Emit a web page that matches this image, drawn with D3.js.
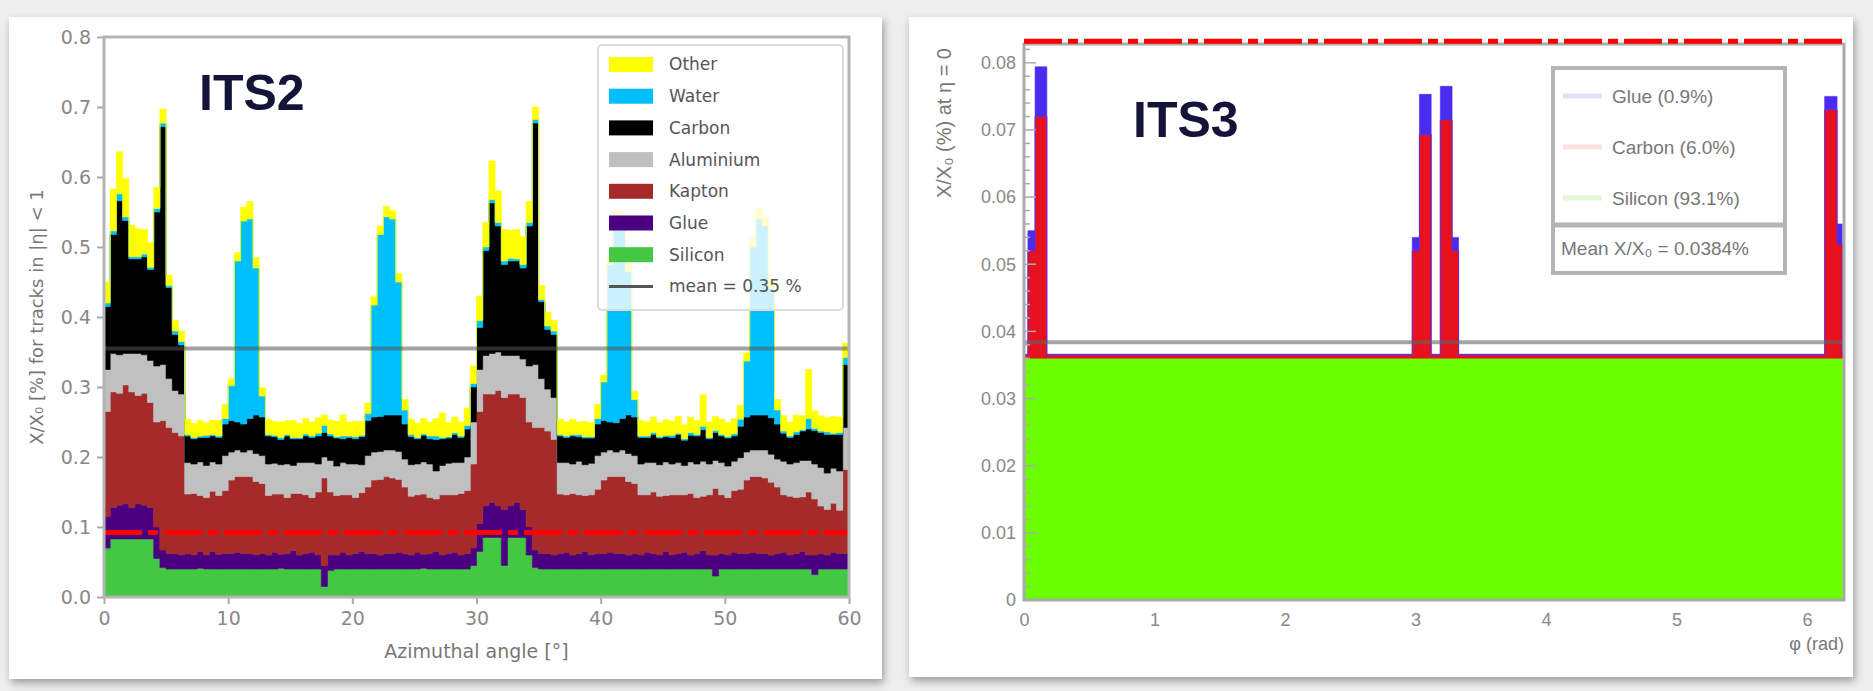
<!DOCTYPE html>
<html>
<head>
<meta charset="utf-8">
<script src="https://cdn.jsdelivr.net/npm/d3@7"></script>
<style>
  body { margin: 0; background: #ececec; }
  svg { display: block; }
</style>
</head>
<body>
<svg id="chart" width="1873" height="691"></svg>
<script>
// ---------------- ITS2 data (0.5 deg bins, X/X0 in %) ----------------
var its2BinWidth = 0.5;
var its2Keys = ["Silicon", "Glue", "Kapton", "Aluminium", "Carbon", "Water", "Other"];
var its2LegendOrder = ["Other", "Water", "Carbon", "Aluminium", "Kapton", "Glue", "Silicon"];

var silicon = [
  0.070, 0.083, 0.083, 0.083, 0.083, 0.083, 0.083, 0.083, 0.055, 0.042,
  0.040, 0.040, 0.040, 0.040, 0.040, 0.041, 0.040, 0.040, 0.040, 0.040,
  0.040, 0.040, 0.040, 0.040, 0.040, 0.040, 0.040, 0.040, 0.041, 0.040,
  0.040, 0.040, 0.040, 0.040, 0.040, 0.015, 0.038, 0.040, 0.040, 0.040,
  0.040, 0.040, 0.040, 0.040, 0.040, 0.040, 0.040, 0.040, 0.040, 0.040,
  0.040, 0.041, 0.040, 0.040, 0.040, 0.040, 0.040, 0.040, 0.040, 0.045,
  0.065, 0.085, 0.085, 0.085, 0.045, 0.085, 0.085, 0.085, 0.060, 0.042,
  0.040, 0.040, 0.040, 0.040, 0.040, 0.040, 0.040, 0.040, 0.040, 0.040,
  0.040, 0.040, 0.040, 0.040, 0.040, 0.040, 0.040, 0.040, 0.040, 0.040,
  0.040, 0.040, 0.040, 0.040, 0.040, 0.040, 0.040, 0.040, 0.030, 0.040,
  0.040, 0.040, 0.040, 0.040, 0.040, 0.040, 0.040, 0.040, 0.040, 0.040,
  0.040, 0.040, 0.040, 0.040, 0.032, 0.040, 0.040, 0.040, 0.040, 0.040
];
var glue = [
  0.045, 0.045, 0.048, 0.050, 0.045, 0.050, 0.048, 0.045, 0.045, 0.025,
  0.022, 0.022, 0.020, 0.022, 0.020, 0.024, 0.020, 0.025, 0.021, 0.022,
  0.022, 0.024, 0.022, 0.022, 0.020, 0.022, 0.020, 0.024, 0.020, 0.022,
  0.026, 0.020, 0.022, 0.024, 0.020, 0.030, 0.022, 0.020, 0.024, 0.020,
  0.022, 0.025, 0.022, 0.022, 0.020, 0.022, 0.022, 0.024, 0.022, 0.020,
  0.024, 0.020, 0.022, 0.025, 0.020, 0.022, 0.024, 0.020, 0.022, 0.025,
  0.040, 0.045, 0.050, 0.045, 0.080, 0.045, 0.050, 0.040, 0.040, 0.025,
  0.022, 0.022, 0.020, 0.022, 0.024, 0.020, 0.022, 0.025, 0.020, 0.022,
  0.022, 0.024, 0.022, 0.022, 0.020, 0.022, 0.020, 0.024, 0.022, 0.020,
  0.025, 0.020, 0.022, 0.024, 0.020, 0.022, 0.026, 0.020, 0.030, 0.022,
  0.020, 0.024, 0.022, 0.022, 0.024, 0.022, 0.022, 0.020, 0.022, 0.024,
  0.020, 0.022, 0.025, 0.020, 0.028, 0.022, 0.020, 0.024, 0.022, 0.022
];
var kapton = [
  0.150, 0.165, 0.160, 0.170, 0.165, 0.155, 0.160, 0.150, 0.150, 0.185,
  0.180, 0.173, 0.170, 0.085, 0.088, 0.080, 0.082, 0.086, 0.084, 0.090,
  0.105, 0.108, 0.110, 0.110, 0.105, 0.100, 0.085, 0.083, 0.086, 0.080,
  0.082, 0.088, 0.084, 0.078, 0.090, 0.125, 0.090, 0.085, 0.082, 0.086,
  0.080, 0.084, 0.095, 0.105, 0.108, 0.110, 0.108, 0.104, 0.095, 0.084,
  0.082, 0.086, 0.080, 0.075, 0.086, 0.084, 0.082, 0.088, 0.090, 0.120,
  0.160, 0.160, 0.155, 0.165, 0.160, 0.160, 0.155, 0.160, 0.150, 0.175,
  0.180, 0.175, 0.165, 0.085, 0.082, 0.088, 0.084, 0.080, 0.086, 0.092,
  0.105, 0.108, 0.110, 0.110, 0.105, 0.100, 0.086, 0.082, 0.088, 0.084,
  0.080, 0.086, 0.084, 0.082, 0.088, 0.080, 0.078, 0.086, 0.095, 0.084,
  0.082, 0.088, 0.092, 0.105, 0.108, 0.110, 0.108, 0.104, 0.095, 0.082,
  0.084, 0.080, 0.078, 0.090, 0.080, 0.068, 0.065, 0.070, 0.062, 0.120
];
var aluminium = [
  0.060, 0.055, 0.055, 0.045, 0.055, 0.060, 0.055, 0.060, 0.080, 0.080,
  0.070, 0.060, 0.060, 0.045, 0.042, 0.048, 0.046, 0.042, 0.045, 0.050,
  0.040, 0.038, 0.035, 0.038, 0.040, 0.040, 0.045, 0.044, 0.042, 0.048,
  0.040, 0.044, 0.046, 0.050, 0.040, 0.030, 0.045, 0.042, 0.046, 0.044,
  0.048, 0.040, 0.045, 0.040, 0.040, 0.038, 0.040, 0.040, 0.040, 0.045,
  0.044, 0.046, 0.048, 0.040, 0.042, 0.045, 0.046, 0.044, 0.048, 0.060,
  0.060, 0.055, 0.058, 0.055, 0.060, 0.055, 0.055, 0.055, 0.080, 0.090,
  0.070, 0.060, 0.060, 0.045, 0.046, 0.042, 0.048, 0.044, 0.045, 0.048,
  0.040, 0.038, 0.035, 0.038, 0.040, 0.040, 0.044, 0.046, 0.042, 0.045,
  0.048, 0.044, 0.046, 0.042, 0.045, 0.048, 0.050, 0.044, 0.040, 0.046,
  0.045, 0.042, 0.045, 0.040, 0.038, 0.038, 0.040, 0.040, 0.040, 0.048,
  0.046, 0.050, 0.052, 0.045, 0.050, 0.055, 0.052, 0.050, 0.056, 0.060
];
var carbon = [
  0.090, 0.170, 0.220, 0.190, 0.135, 0.135, 0.140, 0.130, 0.220, 0.340,
  0.130, 0.080, 0.070, 0.038, 0.036, 0.035, 0.040, 0.037, 0.038, 0.045,
  0.045, 0.040, 0.040, 0.045, 0.055, 0.055, 0.040, 0.038, 0.036, 0.040,
  0.038, 0.034, 0.038, 0.036, 0.040, 0.035, 0.035, 0.040, 0.034, 0.038,
  0.036, 0.040, 0.050, 0.050, 0.050, 0.050, 0.050, 0.052, 0.050, 0.040,
  0.036, 0.038, 0.036, 0.045, 0.038, 0.036, 0.040, 0.036, 0.040, 0.050,
  0.060, 0.150, 0.215, 0.180, 0.130, 0.135, 0.135, 0.130, 0.200, 0.345,
  0.110, 0.085, 0.090, 0.038, 0.036, 0.040, 0.035, 0.038, 0.036, 0.045,
  0.045, 0.040, 0.042, 0.045, 0.055, 0.055, 0.038, 0.036, 0.040, 0.038,
  0.036, 0.038, 0.040, 0.036, 0.038, 0.040, 0.045, 0.036, 0.040, 0.038,
  0.040, 0.036, 0.045, 0.050, 0.050, 0.050, 0.050, 0.052, 0.050, 0.040,
  0.038, 0.040, 0.042, 0.045, 0.048, 0.050, 0.055, 0.048, 0.052, 0.090
];
var water = [
  0.005, 0.005, 0.010, 0.005, 0.003, 0.003, 0.004, 0.003, 0.005, 0.005,
  0.003, 0.005, 0.005, 0.002, 0.002, 0.002, 0.003, 0.002, 0.002, 0.008,
  0.050, 0.230, 0.290, 0.285, 0.210, 0.030, 0.002, 0.002, 0.003, 0.002,
  0.002, 0.002, 0.003, 0.002, 0.004, 0.010, 0.003, 0.002, 0.004, 0.002,
  0.003, 0.002, 0.010, 0.160, 0.260, 0.283, 0.280, 0.190, 0.020, 0.003,
  0.002, 0.002, 0.004, 0.005, 0.002, 0.002, 0.003, 0.002, 0.005, 0.005,
  0.010, 0.005, 0.005, 0.005, 0.005, 0.004, 0.003, 0.005, 0.005, 0.005,
  0.003, 0.005, 0.005, 0.002, 0.002, 0.002, 0.003, 0.002, 0.002, 0.008,
  0.055, 0.225, 0.283, 0.280, 0.205, 0.025, 0.002, 0.002, 0.003, 0.002,
  0.002, 0.003, 0.002, 0.002, 0.004, 0.002, 0.005, 0.002, 0.003, 0.002,
  0.002, 0.003, 0.010, 0.080, 0.240, 0.280, 0.270, 0.185, 0.020, 0.003,
  0.002, 0.004, 0.002, 0.015, 0.003, 0.002, 0.004, 0.002, 0.003, 0.010
];
var other = [
  0.030, 0.060, 0.060, 0.055, 0.045, 0.040, 0.035, 0.035, 0.030, 0.020,
  0.015, 0.015, 0.015, 0.022, 0.020, 0.022, 0.018, 0.020, 0.022, 0.020,
  0.010, 0.012, 0.020, 0.025, 0.015, 0.012, 0.022, 0.020, 0.022, 0.020,
  0.024, 0.020, 0.022, 0.020, 0.022, 0.015, 0.020, 0.022, 0.030, 0.020,
  0.022, 0.020, 0.015, 0.012, 0.012, 0.015, 0.012, 0.012, 0.015, 0.022,
  0.020, 0.022, 0.020, 0.025, 0.035, 0.020, 0.022, 0.020, 0.025, 0.025,
  0.035, 0.035, 0.055, 0.045, 0.045, 0.040, 0.042, 0.040, 0.030, 0.018,
  0.020, 0.020, 0.015, 0.022, 0.020, 0.022, 0.018, 0.022, 0.020, 0.020,
  0.010, 0.012, 0.018, 0.015, 0.012, 0.012, 0.022, 0.020, 0.022, 0.020,
  0.022, 0.020, 0.024, 0.020, 0.022, 0.020, 0.045, 0.022, 0.020, 0.022,
  0.020, 0.022, 0.020, 0.012, 0.012, 0.015, 0.012, 0.012, 0.015, 0.022,
  0.020, 0.024, 0.020, 0.070, 0.025, 0.022, 0.020, 0.024, 0.022, 0.020
];
var its2Mean = 0.355;
var its2RedLine = 0.092;
var its2XTicks = [0, 10, 20, 30, 40, 50, 60];
var its2YTicks = [0, 0.1, 0.2, 0.3, 0.4, 0.5, 0.6, 0.7, 0.8];

// ---------------- ITS3 data (variable phi bins, X/X0 in %) ----------------
var its3Edges   = [0, 0.03, 0.085, 0.175, 2.975, 3.03, 3.12, 3.19, 3.28, 3.33, 6.135, 6.23, 6.27, 6.2832];
var its3Silicon = [0.036, 0.036, 0.036, 0.036, 0.036, 0.036, 0.036, 0.036, 0.036, 0.036, 0.036, 0.036, 0.036];
var its3Carbon  = [0.0005, 0.016, 0.036, 0.0005, 0.016, 0.0333, 0.0005, 0.0355, 0.016, 0.0005, 0.037, 0.017, 0.0005];
var its3Glue    = [0.0001, 0.003, 0.0074, 0.0001, 0.002, 0.006, 0.0001, 0.005, 0.002, 0.0001, 0.002, 0.003, 0.0001];
var its3Keys = ["Silicon", "Carbon", "Glue"];
var its3Labels = ["Glue (0.9%)", "Carbon (6.0%)", "Silicon (93.1%)"];
var its3Mean = 0.0384;
var its3RedLine = 0.0832;
var its3XTicks = [0, 1, 2, 3, 4, 5, 6];
var its3YTicks = [0, 0.01, 0.02, 0.03, 0.04, 0.05, 0.06, 0.07, 0.08];

var its2Colors = {
  Other: "#ffff00", Water: "#00bfff", Carbon: "#000000", Aluminium: "#c0c0c0",
  Kapton: "#a52a2a", Glue: "#4b0082", Silicon: "#42c842"
};
var its3Colors = { Silicon: "#6cff00", Carbon: "#e8111e", Glue: "#4a2cf0" };
var its3LegendColors = { Glue: "#e2e0f8", Carbon: "#f8e2e2", Silicon: "#e0f8d6" };

var svg = d3.select("#chart");

// card shadow
var defs = svg.append("defs");
var shadow = defs.append("filter").attr("id", "shadow")
  .attr("x", "-5%").attr("y", "-5%").attr("width", "110%").attr("height", "115%");
shadow.append("feDropShadow").attr("dx", 2).attr("dy", 4).attr("stdDeviation", 4)
  .attr("flood-color", "#000").attr("flood-opacity", 0.35);

svg.append("rect").attr("x", 0).attr("y", 0).attr("width", 1873).attr("height", 691).attr("fill", "#eeeeee");
svg.append("rect").attr("x", 9).attr("y", 17).attr("width", 873).attr("height", 662)
  .attr("fill", "#fff").attr("filter", "url(#shadow)");
svg.append("rect").attr("x", 909).attr("y", 17).attr("width", 944).attr("height", 660)
  .attr("fill", "#fff").attr("filter", "url(#shadow)");

//////////////////////////////////////////////////////////////////////////////
// LEFT: ITS2
var xL = d3.scaleLinear().domain([0, 60]).range([104, 849]);
var yL = d3.scaleLinear().domain([0, 0.8]).range([597, 37]);

var its2Rows = silicon.map(function(v, i) {
  return {
    angle: i * its2BinWidth,
    Silicon: silicon[i], Glue: glue[i], Kapton: kapton[i], Aluminium: aluminium[i],
    Carbon: carbon[i], Water: water[i], Other: other[i]
  };
});
// closing edge for step curve
its2Rows.push(Object.assign({}, its2Rows[its2Rows.length - 1], { angle: its2Rows.length * its2BinWidth }));

var its2Series = d3.stack().keys(its2Keys)(its2Rows);
var areaL = d3.area()
  .curve(d3.curveStepAfter)
  .x(d => xL(d.data.angle))
  .y0(d => yL(d[0]))
  .y1(d => yL(d[1]));

var left = svg.append("g");
left.selectAll("path.layer").data(its2Series).enter()
  .append("path")
  .attr("class", "layer")
  .attr("d", areaL)
  .attr("fill", d => its2Colors[d.key])
  .attr("stroke", d => its2Colors[d.key])
  .attr("stroke-width", 0.6);

// red dash-dot reference line
left.append("line")
  .attr("x1", xL(0)).attr("x2", xL(60))
  .attr("y1", yL(its2RedLine)).attr("y2", yL(its2RedLine))
  .attr("stroke", "#ff0000").attr("stroke-width", 5)
  .attr("stroke-dasharray", "38,6,10,6");

// mean line
left.append("line")
  .attr("x1", xL(0)).attr("x2", xL(60))
  .attr("y1", yL(its2Mean)).attr("y2", yL(its2Mean))
  .attr("stroke", "#555").attr("stroke-opacity", 0.55).attr("stroke-width", 4);

// frame
left.append("rect")
  .attr("x", xL(0)).attr("y", yL(0.8))
  .attr("width", xL(60) - xL(0)).attr("height", yL(0) - yL(0.8))
  .attr("fill", "none").attr("stroke", "#b4b4b4").attr("stroke-width", 3);

// axes
var leftAxis = d3.axisLeft(yL).tickValues(its2YTicks).tickFormat(d3.format(".1f")).tickSize(6).tickPadding(6);
var bottomAxis = d3.axisBottom(xL).tickValues(its2XTicks).tickSize(6).tickPadding(8);

var gy = left.append("g").attr("transform", `translate(${xL(0) - 1},0)`).call(leftAxis);
var gx = left.append("g").attr("transform", `translate(0,${yL(0) + 1})`).call(bottomAxis);
[gy, gx].forEach(function(g) {
  g.select(".domain").remove();
  g.selectAll("line").attr("stroke", "#aaa").attr("stroke-width", 2);
  g.selectAll("text").attr("fill", "#888").style("font", "19px 'DejaVu Sans'");
});

left.append("text")
  .attr("x", (xL(0) + xL(60)) / 2).attr("y", 658)
  .attr("text-anchor", "middle")
  .attr("fill", "#777")
  .style("font", "19px 'DejaVu Sans'")
  .text("Azimuthal angle [°]");

left.append("text")
  .attr("transform", `translate(43, ${(yL(0) + yL(0.8)) / 2}) rotate(-90)`)
  .attr("text-anchor", "middle")
  .attr("fill", "#777")
  .style("font", "18px 'DejaVu Sans'")
  .text("X/X₀ [%] for tracks in |η| < 1");

// legend
var legL = left.append("g").attr("transform", "translate(598,45)");
legL.append("rect").attr("width", 245).attr("height", 265).attr("rx", 4)
  .attr("fill", "#fff").attr("fill-opacity", 0.8)
  .attr("stroke", "#dcdcdc").attr("stroke-width", 2);
its2LegendOrder.forEach(function(k, i) {
  var cy = 19.5 + i * 31.7;
  legL.append("rect").attr("x", 11).attr("y", cy - 7.5).attr("width", 44).attr("height", 15)
    .attr("fill", its2Colors[k]);
  legL.append("text").attr("x", 71).attr("y", cy).attr("dy", "0.35em")
    .attr("fill", "#555").style("font", "17px 'DejaVu Sans'").text(k);
});
var meanY = 19.5 + 7 * 31.7;
legL.append("line").attr("x1", 11).attr("x2", 55).attr("y1", meanY).attr("y2", meanY)
  .attr("stroke", "#555").attr("stroke-width", 3);
legL.append("text").attr("x", 71).attr("y", meanY).attr("dy", "0.35em")
  .attr("fill", "#555").style("font", "17px 'DejaVu Sans'").text("mean = 0.35 %");

left.append("text").attr("x", 199).attr("y", 110)
  .attr("fill", "#14143a")
  .style("font", "bold 50px 'Liberation Sans'")
  .text("ITS2");

//////////////////////////////////////////////////////////////////////////////
// RIGHT: ITS3
var xR = d3.scaleLinear().domain([0, 2 * Math.PI]).range([1024, 1844]);
var yR = d3.scaleLinear().domain([0, 0.0828]).range([600, 44]);

var its3Rows = its3Silicon.map(function(v, i) {
  return { phi: its3Edges[i], Silicon: its3Silicon[i], Carbon: its3Carbon[i], Glue: its3Glue[i] };
});
its3Rows.push(Object.assign({}, its3Rows[its3Rows.length - 1], { phi: its3Edges[its3Edges.length - 1] }));

var its3Series = d3.stack().keys(its3Keys)(its3Rows);
var areaR = d3.area()
  .curve(d3.curveStepAfter)
  .x(d => xR(d.data.phi))
  .y0(d => yR(d[0]))
  .y1(d => yR(d[1]));

var right = svg.append("g");
right.selectAll("path.layer").data(its3Series).enter()
  .append("path")
  .attr("class", "layer")
  .attr("d", areaR)
  .attr("fill", d => its3Colors[d.key])
  .attr("stroke", d => its3Colors[d.key])
  .attr("stroke-width", 0.6);

right.append("line")
  .attr("x1", xR(0)).attr("x2", xR(2 * Math.PI))
  .attr("y1", yR(its3Mean)).attr("y2", yR(its3Mean))
  .attr("stroke", "#666").attr("stroke-opacity", 0.6).attr("stroke-width", 4);

right.append("rect")
  .attr("x", xR(0)).attr("y", yR(0.0828))
  .attr("width", xR(2 * Math.PI) - xR(0)).attr("height", yR(0) - yR(0.0828))
  .attr("fill", "none").attr("stroke", "#aaa").attr("stroke-width", 3);

right.append("line")
  .attr("x1", xR(0)).attr("x2", xR(2 * Math.PI))
  .attr("y1", yR(its3RedLine)).attr("y2", yR(its3RedLine))
  .attr("stroke", "#ff0000").attr("stroke-width", 5)
  .attr("stroke-dasharray", "38,6,10,6");

// y axis: major + minor ticks pointing inward
var minorR = d3.range(0, 0.0821, 0.002);
right.append("g").selectAll("line").data(minorR).enter().append("line")
  .attr("x1", xR(0)).attr("x2", d => xR(0) + (Math.abs(d * 100 - Math.round(d * 100)) < 1e-6 ? 12 : 6))
  .attr("y1", d => yR(d)).attr("y2", d => yR(d))
  .attr("stroke", "#aaa").attr("stroke-width", 1.5);

var fmtR = function(v) { return v === 0 ? "0" : d3.format(".2f")(v); };
var rightY = d3.axisLeft(yR).tickValues(its3YTicks).tickFormat(fmtR).tickSize(0).tickPadding(8);
var rightX = d3.axisBottom(xR).tickValues(its3XTicks).tickFormat(d3.format("d")).tickSize(0).tickPadding(13);
var gyR = right.append("g").attr("transform", `translate(${xR(0)},0)`).call(rightY);
var gxR = right.append("g").attr("transform", `translate(0,${yR(0)})`).call(rightX);
[gyR, gxR].forEach(function(g) {
  g.select(".domain").remove();
  g.selectAll("text").attr("fill", "#888").style("font", "18px 'Liberation Sans'");
});

right.append("text")
  .attr("x", xR(2 * Math.PI)).attr("y", 650)
  .attr("text-anchor", "end")
  .attr("fill", "#777")
  .style("font", "18px 'Liberation Sans'")
  .text("φ (rad)");

right.append("text")
  .attr("transform", "translate(951, 48) rotate(-90)")
  .attr("text-anchor", "end")
  .attr("fill", "#777")
  .style("font", "20px 'Liberation Sans'")
  .text("X/X₀ (%) at η = 0");

// legend
var legR = right.append("g").attr("transform", "translate(1553,68)");
legR.append("rect").attr("width", 232).attr("height", 205)
  .attr("fill", "#fff").attr("stroke", "#b4b4b4").attr("stroke-width", 4);
legR.append("line").attr("x1", 0).attr("x2", 232).attr("y1", 157).attr("y2", 157)
  .attr("stroke", "#b4b4b4").attr("stroke-width", 5);
["Glue", "Carbon", "Silicon"].forEach(function(k, i) {
  var cy = 28 + i * 51;
  legR.append("line").attr("x1", 10).attr("x2", 49).attr("y1", cy).attr("y2", cy)
    .attr("stroke", its3LegendColors[k]).attr("stroke-width", 5);
  legR.append("text").attr("x", 59).attr("y", cy).attr("dy", "0.35em")
    .attr("fill", "#777").style("font", "19px 'Liberation Sans'").text(its3Labels[i]);
});
legR.append("text").attr("x", 8).attr("y", 180).attr("dy", "0.35em")
  .attr("fill", "#777").style("font", "19px 'Liberation Sans'").text("Mean X/X₀ = 0.0384%");

right.append("text").attr("x", 1133).attr("y", 137)
  .attr("fill", "#14143a")
  .style("font", "bold 50px 'Liberation Sans'")
  .text("ITS3");
</script>
</body>
</html>
